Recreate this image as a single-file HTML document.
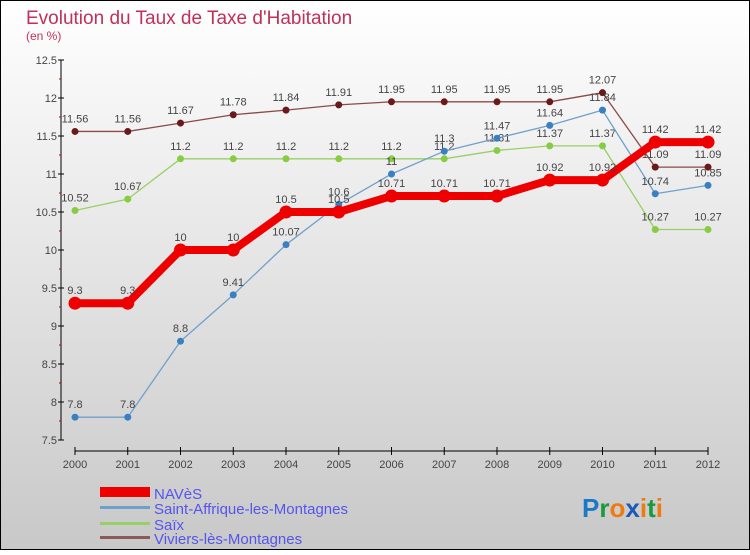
<!DOCTYPE html>
<html><head><meta charset="utf-8"><style>
body{margin:0}
#c{width:750px;height:550px;position:relative;font-family:"Liberation Sans",sans-serif}
</style></head><body>
<div id="c">
<svg id="s" width="750" height="550" xmlns="http://www.w3.org/2000/svg">
<defs><linearGradient id="bg" x1="0" y1="0" x2="0" y2="1"><stop offset="0" stop-color="#ffffff"/><stop offset="1" stop-color="#c8c8c8"/></linearGradient></defs>
<rect x="0.5" y="0.5" width="749" height="549" fill="url(#bg)" stroke="#000"/>
<text x="26" y="24" font-size="19" fill="#c0305a">Evolution du Taux de Taxe d'Habitation</text>
<text x="26" y="40" font-size="12" fill="#c0305a">(en %)</text>
<g id="axes"></g><g id="series"></g>
<g>
<rect x="100" y="487" width="50" height="10" fill="#e00"/>
<text x="154" y="499" font-size="15" fill="#5555ee">NAVèS</text>
<rect x="100" y="506" width="50" height="3" fill="#6fa0cc"/>
<text x="154" y="514" font-size="15" fill="#5555ee">Saint-Affrique-les-Montagnes</text>
<rect x="100" y="522" width="50" height="3" fill="#99d066"/>
<text x="154" y="530" font-size="15" fill="#5555ee">Saïx</text>
<rect x="100" y="536" width="50" height="3" fill="#8a5a5a"/>
<text x="154" y="544" font-size="15" fill="#5555ee">Viviers-lès-Montagnes</text>
</g>
<text x="582" y="517" font-size="26" font-weight="bold"><tspan fill="#1a7ac8">P</tspan><tspan fill="#1a9a3a">r</tspan><tspan fill="#f07a10">o</tspan><tspan fill="#1a5ab8">x</tspan><tspan fill="#f07a10">i</tspan><tspan fill="#1a9a3a">t</tspan><tspan fill="#f07a10">i</tspan></text>
</svg></div>
<script>
const years=[2000,2001,2002,2003,2004,2005,2006,2007,2008,2009,2010,2011,2012];
const naves=[9.3,9.3,10,10,10.5,10.5,10.71,10.71,10.71,10.92,10.92,11.42,11.42];
const saint=[7.8,7.8,8.8,9.41,10.07,10.6,11,11.3,11.47,11.64,11.84,10.74,10.85];
const saix=[10.52,10.67,11.2,11.2,11.2,11.2,11.2,11.2,11.31,11.37,11.37,10.27,10.27];
const viviers=[11.56,11.56,11.67,11.78,11.84,11.91,11.95,11.95,11.95,11.95,12.07,11.09,11.09];
const yTicks=[7.5,8,8.5,9,9.5,10,10.5,11,11.5,12,12.5];
const NS="http://www.w3.org/2000/svg";
const X=i=>75+i*52.75, Y=v=>440-(v-7.5)*76;
function mk(t,a,p){const e=document.createElementNS(NS,t);for(const k in a)e.setAttribute(k,a[k]);p.appendChild(e);return e;}
const ax=document.getElementById('axes');
let l=mk('line',{x1:61,y1:60,x2:61,y2:440,stroke:'#000'},ax);


l=mk('line',{x1:75,y1:451,x2:708,y2:451,stroke:'#000'},ax);


yTicks.forEach((v,i)=>{mk('line',{x1:58,y1:Y(v),x2:64,y2:Y(v),stroke:'#000'},ax);
 if(i<yTicks.length-1)mk('line',{x1:59,y1:Y(v+0.25),x2:61,y2:Y(v+0.25),stroke:'#c00'},ax);
 const t=mk('text',{x:57,y:Y(v)+4,'font-size':11,'text-anchor':'end',fill:'#444'},ax);t.textContent=v;
 
 });
years.forEach((y,i)=>{mk('line',{x1:X(i),y1:447,x2:X(i),y2:455,stroke:'#000'},ax);
 const t=mk('text',{x:X(i),y:468,'font-size':11,'text-anchor':'middle',fill:'#444'},ax);t.textContent=y;
 
 });
const sg=document.getElementById('series');
function draw(vals,color,dot,w,r,name){
 const g=mk('g',{},sg);
 
 
 mk('polyline',{points:vals.map((v,i)=>X(i)+','+Y(v)).join(' '),fill:'none',stroke:color,'stroke-width':w,'stroke-linejoin':'round'},g);
 vals.forEach((v,i)=>{const c=mk('circle',{cx:X(i),cy:Y(v),r:r,fill:dot},g);
  
  
  const t=mk('text',{x:X(i),y:Y(v)-9,'font-size':11,'text-anchor':'middle',fill:'#444'},g);t.textContent=v;});
}
draw(viviers,'#8a4a4a','#6a1a1a',1.3,3.5,'series-viviers');
draw(saix,'#99d066','#88cc44',1.3,3.5,'series-saix');
draw(saint,'#6fa0cc','#3a80c0',1.3,3.5,'series-saint-affrique');
draw(naves,'#ee0000','#ee0000',8,6.5,'series-naves');
</script>
</body></html>
